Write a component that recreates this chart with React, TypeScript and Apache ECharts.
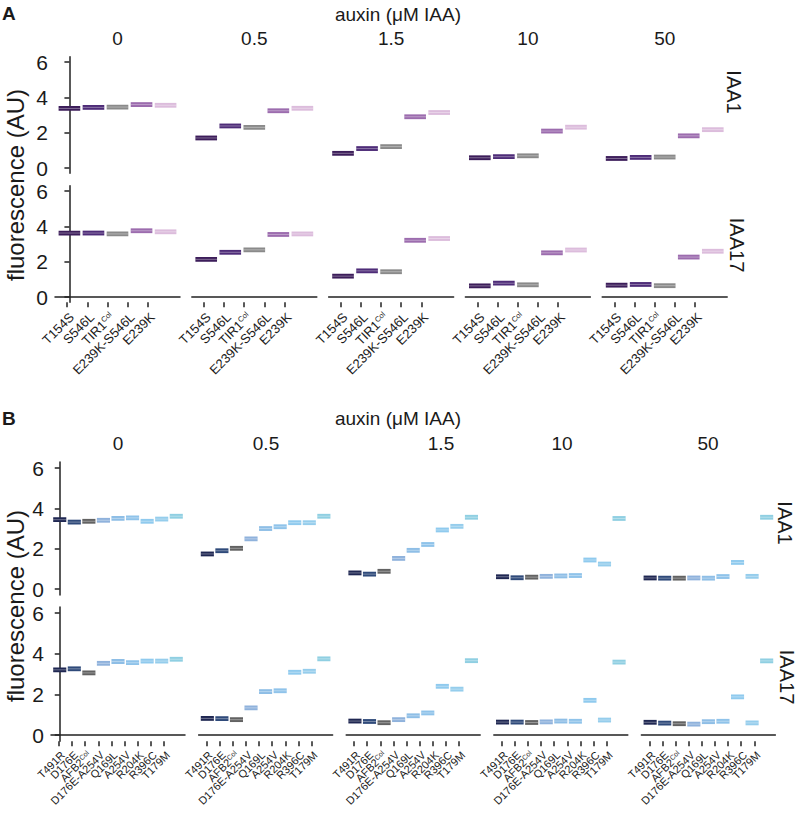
import React, { useEffect, useRef } from "react";
import * as echarts from "echarts";

const auxinLevels = ["0", "0.5", "1.5", "10", "50"];

// Panel A
const catsA = ["T154S", "S546L", "TIR1Col", "E239K-S546L", "E239K"];
const colorsA = ["#3c1d5a", "#4e2c78", "#8a8a8a", "#9c6cae", "#dcbcdc"];
// rows = auxin levels, cols = categories
const A_IAA1 = [
  [3.37, 3.43, 3.45, 3.59, 3.55],
  [1.70, 2.38, 2.30, 3.24, 3.38],
  [0.83, 1.10, 1.21, 2.90, 3.14],
  [0.58, 0.64, 0.69, 2.09, 2.31],
  [0.54, 0.60, 0.62, 1.82, 2.17],
];
const A_IAA17 = [
  [3.62, 3.62, 3.57, 3.75, 3.69],
  [2.13, 2.53, 2.67, 3.54, 3.57],
  [1.18, 1.48, 1.43, 3.21, 3.31],
  [0.63, 0.78, 0.69, 2.50, 2.66],
  [0.67, 0.71, 0.64, 2.26, 2.59],
];

// Panel B
const catsB = ["T491R", "D176E", "AFB2Col", "D176E-A254V", "Q169L", "A254V", "R204K", "R396C", "T179M"];
const colorsB = ["#1f2752", "#2f4a7a", "#626262", "#8fb2dc", "#8ebee6", "#8fc3ea", "#8fcaee", "#95cdec", "#8fcfe2"];
const B_IAA1 = [
  [3.44, 3.32, 3.36, 3.41, 3.50, 3.53, 3.36, 3.47, 3.61],
  [1.74, 1.90, 2.02, 2.49, 3.00, 3.09, 3.29, 3.29, 3.61],
  [0.80, 0.74, 0.88, 1.52, 1.92, 2.21, 2.93, 3.11, 3.56],
  [0.61, 0.56, 0.59, 0.63, 0.65, 0.67, 1.44, 1.24, 3.50],
  [0.55, 0.54, 0.54, 0.55, 0.54, 0.62, 1.32, 0.63, 3.56],
];
const B_IAA17 = [
  [3.21, 3.26, 3.06, 3.53, 3.62, 3.56, 3.64, 3.64, 3.73],
  [0.82, 0.81, 0.76, 1.34, 2.14, 2.18, 3.09, 3.14, 3.75],
  [0.69, 0.67, 0.61, 0.76, 0.95, 1.09, 2.40, 2.26, 3.66],
  [0.64, 0.64, 0.62, 0.65, 0.69, 0.68, 1.71, 0.74, 3.59],
  [0.63, 0.59, 0.56, 0.54, 0.66, 0.68, 1.88, 0.60, 3.65],
];

const yTicks = [0, 2, 4, 6];
const FONT = "Liberation Sans, Arial, Helvetica, sans-serif";
const INK = "#1a1a1a";

type PanelSpec = {
  cats: string[];
  colors: string[];
  rows: { data: number[][]; top: number; height: number; strip: string; stripX: number; stripY: number }[];
  left0: number;
  step: number;
  width: number;
  labelSize: number;
  supSize: number;
  tickLen: number;
};

const panels: PanelSpec[] = [
  {
    cats: catsA,
    colors: colorsA,
    rows: [
      { data: A_IAA1, top: 56.7, height: 116.6, strip: "IAA1", stripX: 734, stripY: 92 },
      { data: A_IAA17, top: 185.7, height: 116.6, strip: "IAA17", stripX: 737, stripY: 245 },
    ],
    left0: 55,
    step: 136.8,
    width: 125,
    labelSize: 13,
    supSize: 7.5,
    tickLen: 5,
  },
  {
    cats: catsB,
    colors: colorsB,
    rows: [
      { data: B_IAA1, top: 462, height: 133.1, strip: "IAA1", stripX: 785, stripY: 523 },
      { data: B_IAA17, top: 607, height: 134.2, strip: "IAA17", stripX: 787, stripY: 677 },
    ],
    left0: 51,
    step: 147.6,
    width: 134,
    labelSize: 11,
    supSize: 7,
    tickLen: 5,
  },
];

function catLabel(c: string): string {
  if (c.endsWith("Col")) return "{n|" + c.slice(0, -3) + "}{s|Col}";
  return "{n|" + c + "}";
}

function buildOption() {
  const grid: any[] = [];
  const xAxis: any[] = [];
  const yAxis: any[] = [];
  const series: any[] = [];
  const graphic: any[] = [];
  const axisColor = "#222";

  panels.forEach((p) => {
    const n = p.cats.length;
    const unit = p.width / (n + 1.2);
    p.rows.forEach((row, r) => {
      const isBottom = r === p.rows.length - 1;
      auxinLevels.forEach((_, f) => {
        const left = p.left0 + f * p.step;
        const gi = grid.length;
        grid.push({ left, top: row.top, width: p.width, height: row.height });
        xAxis.push({
          type: "value",
          gridIndex: gi,
          min: -0.6,
          max: n - 0.4,
          show: isBottom,
          axisLine: { show: true, lineStyle: { color: axisColor, width: 1.5 } },
          axisTick: { show: false },
          axisLabel: { show: false },
          splitLine: { show: false },
        });
        yAxis.push({
          type: "value",
          gridIndex: gi,
          min: -0.3,
          max: 6.3,
          show: f === 0,
          axisLine: { show: true, lineStyle: { color: axisColor, width: 1.5 } },
          axisTick: { show: true, customValues: yTicks, length: 5, lineStyle: { color: axisColor, width: 1.5 } },
          axisLabel: {
            show: true,
            customValues: yTicks,
            fontSize: 21,
            fontFamily: FONT,
            color: INK,
            margin: 7,
          },
          splitLine: { show: false },
        });
        const vals = row.data[f];
        const cols = p.colors;
        series.push({
          type: "custom",
          xAxisIndex: gi,
          yAxisIndex: gi,
          data: vals.map((v, i) => [i, v]),
          renderItem: (params: any, api: any) => {
            const x = api.value(0);
            const m = api.value(1);
            const c = api.coord([x, m]);
            const w = api.size([0.9, 0])[0];
            const color = cols[params.dataIndex];
            return {
              type: "group",
              children: [
                {
                  type: "rect",
                  shape: { x: c[0] - w / 2, y: c[1] - 2.4, width: w, height: 4.8 },
                  style: { fill: color },
                },
                {
                  type: "line",
                  shape: { x1: c[0] - w / 2, y1: c[1], x2: c[0] + w / 2, y2: c[1] },
                  style: { stroke: "rgba(255,255,255,0.35)", lineWidth: 1 },
                },
              ],
            };
          },
        });
        if (isBottom) {
          const lg = grid.length;
          grid.push({ left: left + 0.1 * unit, top: row.top, width: n * unit, height: row.height });
          xAxis.push({
            type: "category",
            gridIndex: lg,
            data: p.cats,
            boundaryGap: true,
            axisLine: { show: false },
            axisTick: { show: true, alignWithLabel: true, interval: 0, length: p.tickLen, lineStyle: { color: axisColor, width: 1.5 } },
            axisLabel: {
              show: true,
              interval: 0,
              rotate: 45,
              margin: 8,
              align: "right",
              verticalAlign: "top",
              formatter: (v: string) => catLabel(v),
              rich: {
                n: { fontSize: p.labelSize, fontFamily: FONT, color: INK },
                s: { fontSize: p.supSize, fontFamily: FONT, color: INK, verticalAlign: "top" },
              },
            },
            splitLine: { show: false },
          });
          yAxis.push({ type: "value", gridIndex: lg, show: false, min: 0, max: 1 });
        }
      });
      graphic.push({
        type: "text",
        x: row.stripX,
        y: row.stripY,
        rotation: -Math.PI / 2,
        style: { text: row.strip, fontSize: 20, fontFamily: FONT, fill: INK, align: "center", verticalAlign: "middle" },
      });
    });
  });

  const txt = (text: string, x: number, y: number, size: number, extra: any = {}) => ({
    type: "text",
    x,
    y,
    ...extra,
    style: { text, fontSize: size, fontFamily: FONT, fill: INK, align: "center", verticalAlign: "middle", ...(extra.style || {}) },
  });
  graphic.push({ type: "text", x: 2, y: 4, style: { text: "A", fontSize: 19, fontWeight: "bold", fontFamily: FONT, fill: INK } });
  graphic.push({ type: "text", x: 2, y: 409, style: { text: "B", fontSize: 19, fontWeight: "bold", fontFamily: FONT, fill: INK } });
  graphic.push(txt("auxin (μM IAA)", 398, 14, 19));
  graphic.push(txt("auxin (μM IAA)", 398, 418, 19));
  const facetXA = auxinLevels.map((_, f) => panels[0].left0 + f * panels[0].step + panels[0].width / 2);
  const facetXB = [118, 266, 441, 562, 708];
  auxinLevels.forEach((lv, f) => {
    graphic.push(txt(lv, facetXA[f], 38, 19));
    graphic.push(txt(lv, facetXB[f], 443, 19));
  });
  graphic.push(txt("fluorescence (AU)", 15, 185, 24, { rotation: Math.PI / 2 }));
  graphic.push(txt("fluorescence (AU)", 15, 606, 24, { rotation: Math.PI / 2 }));

  return {
    animation: false,
    backgroundColor: "#ffffff",
    grid,
    xAxis,
    yAxis,
    series,
    graphic,
  };
}

export default function App() {
  const ref = useRef<HTMLDivElement>(null);
  useEffect(() => {
    document.body.style.margin = "0";
    if (!ref.current) return;
    const chart = echarts.init(ref.current, null, { renderer: "svg" });
    chart.setOption(buildOption());
    return () => chart.dispose();
  }, []);
  return <div ref={ref} style={{ width: 797, height: 817 }} />;
}
